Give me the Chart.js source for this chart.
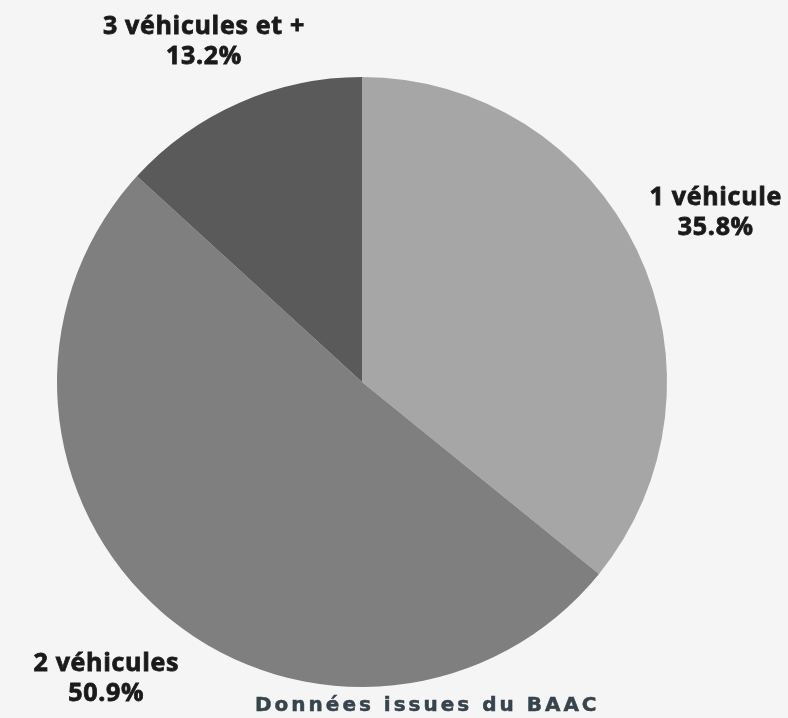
<!DOCTYPE html>
<html lang="fr">
<head>
<meta charset="utf-8">
<title>Accidents par nombre de véhicules</title>
<script src="https://cdn.jsdelivr.net/npm/chart.js@4"></script>
<style>
  html, body { margin: 0; padding: 0; background: #f5f5f5; }
  #wrap { position: relative; width: 788px; height: 718px; }
  #source {
    position: absolute; left: 255px; top: 692px;
    white-space: nowrap;
    font-family: "DejaVu Sans", sans-serif; font-weight: bold;
    font-size: 20px; letter-spacing: 3px; color: #35444d;
    -webkit-text-stroke: 0.5px #35444d;
  }
</style>
</head>
<body>
<div id="wrap">
  <canvas id="pie" width="788" height="718"></canvas>
  <div id="source">Données issues du BAAC</div>
</div>
<script>
  const categories = ["1 véhicule", "2 véhicules", "3 véhicules et +"];
  const shares = [35.8, 50.9, 13.2];
  const sliceColors = ["#a6a6a6", "#7f7f7f", "#5a5a5a"];

  // outside labels: name on the first line, percentage under it
  const outsideLabels = {
    id: "outsideLabels",
    afterDatasetsDraw(chart) {
      const ctx = chart.ctx;
      const arcs = chart.getDatasetMeta(0).data;
      ctx.save();
      ctx.font = "bold 25px 'Open Sans', sans-serif";
      ctx.letterSpacing = "0.7px";
      ctx.fillStyle = "#1a1a1a";
      ctx.strokeStyle = "#1a1a1a";
      ctx.lineWidth = 0.8;
      ctx.textAlign = "center";
      ctx.textBaseline = "middle";
      arcs.forEach((arc, i) => {
        const p = arc.getProps(["x", "y", "startAngle", "endAngle", "outerRadius"], true);
        const mid = (p.startAngle + p.endAngle) / 2;
        const dist = p.outerRadius + 87;
        const x = p.x + Math.cos(mid) * dist;
        let y = p.y + Math.sin(mid) * dist;
        if (y < 42) y = 42;
        const lines = [categories[i], shares[i].toFixed(1) + "%"];
        lines.forEach((t, k) => {
          const ly = y + (k === 0 ? -15 : 15);
          ctx.fillText(t, x, ly);
          ctx.strokeText(t, x, ly);
        });
      });
      ctx.restore();
    },
  };

  new Chart(document.getElementById("pie"), {
    type: "pie",
    data: {
      labels: categories,
      datasets: [{ data: shares, backgroundColor: sliceColors, borderWidth: 0 }],
    },
    options: {
      responsive: false,
      animation: false,
      layout: { padding: { left: 57, right: 121, top: 77, bottom: 31 } },
      plugins: { legend: { display: false }, tooltip: { enabled: false } },
    },
    plugins: [outsideLabels],
  });
</script>
</body>
</html>
